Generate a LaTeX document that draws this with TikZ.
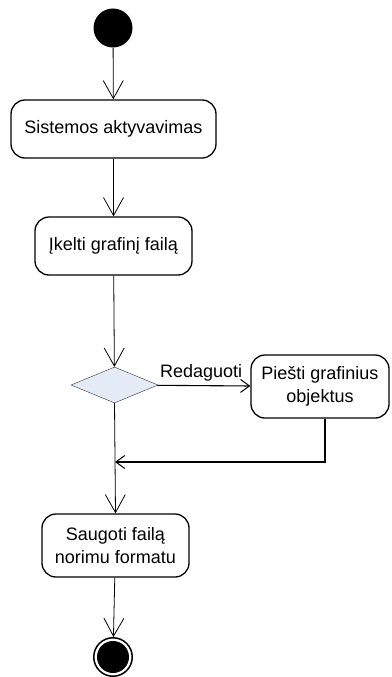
\documentclass[tikz,border=0pt]{standalone}
\usepackage{fontspec}
\setmainfont{Liberation Sans}
\usetikzlibrary{positioning,shapes.geometric,arrows.meta}
\definecolor{decisionblue}{RGB}{228,235,247}

\begin{document}
\begin{tikzpicture}[
  x=1pt, y=-1pt,
  every node/.style={font=\fontsize{18}{23}\selectfont},
  activity/.style={draw, rounded corners=14pt, line width=1.3pt, inner sep=0pt, align=center},
  decision/.style={diamond, draw=black!80, fill=decisionblue, inner sep=0pt, minimum width=87pt, minimum height=36pt},
  flow/.style={draw, line width=0.8pt, -{Straight Barb[length=18pt,width=20pt,line width=0.8pt]}},
  smallflow/.style={draw, line width=1.1pt, -{Straight Barb[length=9pt,width=13pt,line width=1pt]}}
]
\useasboundingbox (0,0) rectangle (391,677);
\node[circle, fill=black, minimum size=39pt, inner sep=0pt] (start) at (113,28) {};
\node[activity, minimum width=205pt, minimum height=58pt] (activate) at (113.5,129) {Sistemos aktyvavimas};
\node[activity, minimum width=157pt, minimum height=58pt] (upload) at (113.5,246) {Įkelti grafinį failą};
\node[decision] (choice) at (114.5,385) {};
\node[activity, minimum width=138pt, minimum height=63pt] (draw) at (320,386.5) {Piešti grafinius\\objektus};
\coordinate (merge) at (115,462);
\node[activity, minimum width=147pt, minimum height=63pt] (save) at (115.5,545.5) {Saugoti failą\\norimu formatu};
\node[circle, draw, line width=1.5pt, minimum size=38.5pt, inner sep=0pt,
  path picture={\fill (path picture bounding box.center) circle (16pt);}] (end) at (113,657) {};

% connectors
\draw[flow] (start) -- (activate);
\draw[flow] (activate) -- (upload);
\draw[flow] (upload) -- (choice);
\draw[smallflow] (choice) -- node[anchor=base, pos=0.47, yshift=8pt] (edit) {Redaguoti} (draw);
\draw[smallflow] ([xshift=5pt]draw.south) |- (merge);
\draw[flow] (choice.south) -- (save.north);
\draw[flow] (save) -- (end);
\end{tikzpicture}
\end{document}
